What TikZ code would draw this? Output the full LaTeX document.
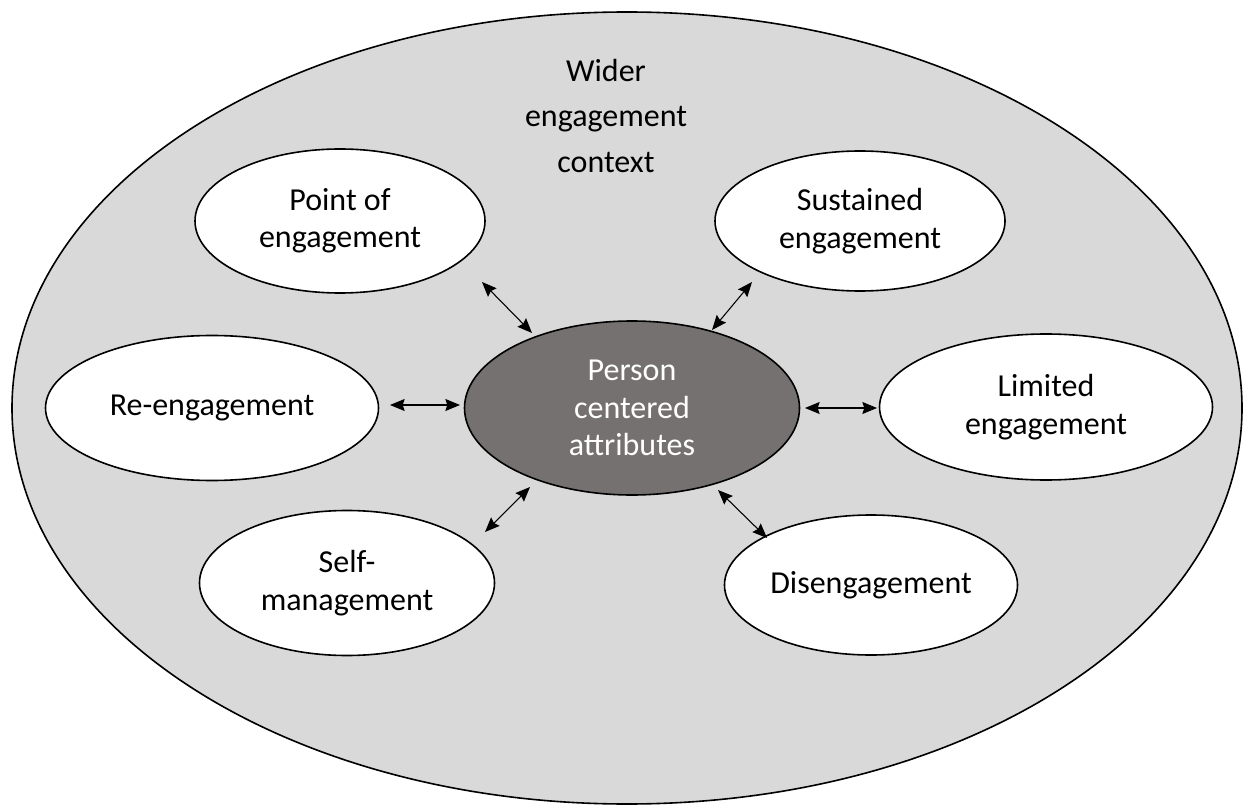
\documentclass[tikz,border=0pt]{standalone}
\usepackage{fontspec}
\setmainfont{Carlito}
\usetikzlibrary{shapes.geometric,arrows.meta}
\definecolor{outerfill}{HTML}{D9D9D9}
\definecolor{corefill}{HTML}{767171}
\tikzset{
  bubble/.style={ellipse, draw=black, line width=1.2pt, fill=white, inner sep=0pt, align=center,
    font=\fontsize{24}{28}\selectfont},
  link/.style={{Stealth[length=11pt,width=9pt,inset=1.5pt]}-{Stealth[length=11pt,width=9pt,inset=1.5pt]}, line width=0.8pt, black}
}
\begin{document}
\begin{tikzpicture}[x=0.75pt,y=-0.75pt]
\useasboundingbox (0,0) rectangle (1245,805);
\node[ellipse, draw=black, line width=1.2pt, fill=outerfill, minimum width=922.5pt, minimum height=594pt, inner sep=0pt] (outer) at (627,408) {};
\node[align=center, font=\fontsize{24}{34}\selectfont] (title) at (606,116) {Wider\\engagement\\context};
\node[bubble, minimum width=217.5pt, minimum height=108pt] (point) at (340,221) {Point of\\engagement};
\node[bubble, minimum width=217.5pt, minimum height=105pt] (sust) at (860,221) {Sustained\\engagement};
\node[bubble, minimum width=249.75pt, minimum height=108.75pt] (re) at (212,408) {Re-engagement};
\node[bubble, minimum width=249.75pt, minimum height=109.5pt] (lim) at (1046,407) {Limited\\engagement};
\node[bubble, minimum width=221.25pt, minimum height=108.75pt] (self) at (347,583) {Self-\\management};
\node[bubble, minimum width=219.75pt, minimum height=105pt] (dis) at (871,585) {Disengagement};
\node[bubble, fill=corefill, text=white, minimum width=251.25pt, minimum height=130.5pt] (core) at (632,408) {Person\\centered\\attributes};
\coordinate (p1) at (482,282); \coordinate (p2) at (532,333);
\coordinate (s1) at (752,282); \coordinate (s2) at (712,330);
\coordinate (r1) at (390,405); \coordinate (r2) at (460,405);
\coordinate (l1) at (877,408); \coordinate (l2) at (805,408);
\coordinate (m1) at (485,532); \coordinate (m2) at (530,487);
\coordinate (d1) at (767,538); \coordinate (d2) at (718,490);
\draw[link] (p1) -- (p2);
\draw[link] (s1) -- (s2);
\draw[link] (r1) -- (r2);
\draw[link] (l1) -- (l2);
\draw[link] (m1) -- (m2);
\draw[link] (d1) -- (d2);
\end{tikzpicture}
\end{document}
